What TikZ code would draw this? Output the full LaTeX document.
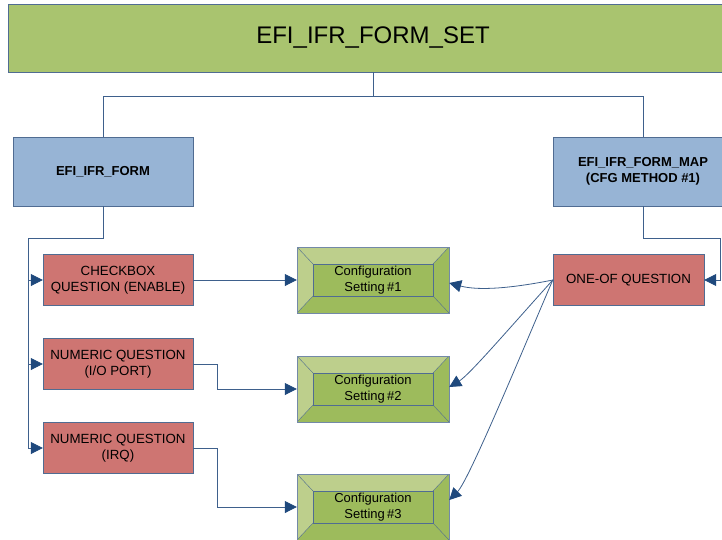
\documentclass[tikz,border=0pt]{standalone}
\usepackage{fontspec}
\setmainfont{Liberation Sans}
\definecolor{EfiGreen}{RGB}{169,196,111}
\definecolor{EfiCfg}{RGB}{157,187,92}
\definecolor{EfiCfgLight}{RGB}{189,207,140}
\definecolor{EfiBlue}{RGB}{151,180,213}
\definecolor{EfiRed}{RGB}{206,117,114}
\definecolor{EfiEdge}{RGB}{80,108,146}
\definecolor{EfiLine}{RGB}{62,96,140}
\definecolor{EfiTip}{RGB}{31,73,125}
\usetikzlibrary{
    arrows.meta,
    positioning,
    calc,
}

\tikzset{
    formset/.style={draw=EfiEdge, fill=EfiGreen, minimum width=730pt, minimum height=68pt, font=\fontsize{24}{28}\selectfont},
    formbox/.style={draw=EfiEdge, fill=EfiBlue, minimum width=180pt, minimum height=69pt, align=center, font=\fontsize{13}{16}\selectfont\bfseries},
    question/.style={draw=EfiEdge, fill=EfiRed, minimum width=150pt, minimum height=51pt, align=center, font=\fontsize{13.3}{16}\selectfont},
    cfgbox/.style={draw=EfiEdge!80, fill=EfiCfg, minimum width=152pt, minimum height=66pt, align=center, font=\fontsize{13}{16}\selectfont,
        path picture={
            \path (path picture bounding box.north west) coordinate (bnw)
                  (path picture bounding box.south east) coordinate (bse);
            \fill[EfiCfgLight] (bnw) -- (bnw -| bse) -- ($(bnw -| bse)+(-16pt,-17pt)$) -- ($(bnw)+(16pt,-17pt)$) -- cycle;
            \fill[EfiCfgLight] (bnw) -- ($(bnw)+(16pt,-17pt)$) -- ($(bnw |- bse)+(16pt,17pt)$) -- (bnw |- bse) -- cycle;
            \draw[EfiEdge] ($(bnw)+(16pt,-17pt)$) rectangle ($(bse)+(-16pt,17pt)$);
            \draw[EfiEdge] (bnw) -- ++(16pt,-17pt) (bnw -| bse) -- ++(-16pt,-17pt)
                           (bse) -- ++(-16pt,17pt) (bnw |- bse) -- ++(16pt,17pt);
        }},
    link/.style={draw=EfiLine, line width=0.8pt},
    arr/.style={link, -{Triangle[length=12pt, width=12pt, color=EfiTip]}},
}

\begin{document}
\begin{tikzpicture}[x=1pt, y=1pt]
    \useasboundingbox (0,0) rectangle (722,-539);

    % form set and its forms
    \node[formset] (formset) at (373,-38) {EFI\_IFR\_FORM\_SET};
    \node[formbox] (form) at (103,-171.5) {EFI\_IFR\_FORM};
    \node[formbox] (formmap) at (643,-171.5) {EFI\_IFR\_FORM\_MAP\\(CFG METHOD \#1)};

    % questions
    \node[question] (checkbox) at (118,-280) {CHECKBOX\\QUESTION (ENABLE)};
    \node[question] (ioport) at (118,-364) {NUMERIC QUESTION\\(I/O PORT)};
    \node[question] (irq) at (118,-448) {NUMERIC QUESTION\\(IRQ)};
    \node[question, minimum width=151pt] (oneof) at (628.5,-280) {ONE-OF QUESTION};

    % configuration settings
    \foreach \n/\y in {1/-280, 2/-389, 3/-507} {
        \node[cfgbox] (cfg\n) at (373,\y) {Configuration\\Setting\,\#\n};
    }

    % tree lines
    \coordinate (split) at (373,-96);
    \coordinate (bus) at (28,-238);
    \coordinate (mapturn) at (720,-238);
    \draw[link] (formset.south) -- (split) -| (form.north);
    \draw[link] (split) -| (formmap.north);
    \draw[link] (form.south) |- (bus) -- (bus |- irq.west);
    \foreach \q in {checkbox, ioport, irq} {
        \draw[arr] (bus |- \q.west) -- (\q.west);
    }
    \draw[arr] (formmap.south) |- (mapturn) |- (oneof.east);

    % questions to settings
    \draw[arr] (checkbox.east) -- (checkbox.east -| cfg1.west);
    \draw[arr] (ioport.east) -- ++(24,0) |- (cfg2.west);
    \draw[arr] (irq.east) -- ++(24,0) |- (cfg3.west);
    \draw[arr] (oneof.west) .. controls +(-40,-8) and +(30,-8) .. ([yshift=-3pt]cfg1.east);
    \draw[arr] (oneof.west) .. controls +(-45,-50) and +(20,12) .. ([yshift=2pt]cfg2.east);
    \draw[arr] (oneof.west) .. controls +(-28,-65) and +(20,20) .. ([yshift=7pt]cfg3.east);
\end{tikzpicture}
\end{document}
